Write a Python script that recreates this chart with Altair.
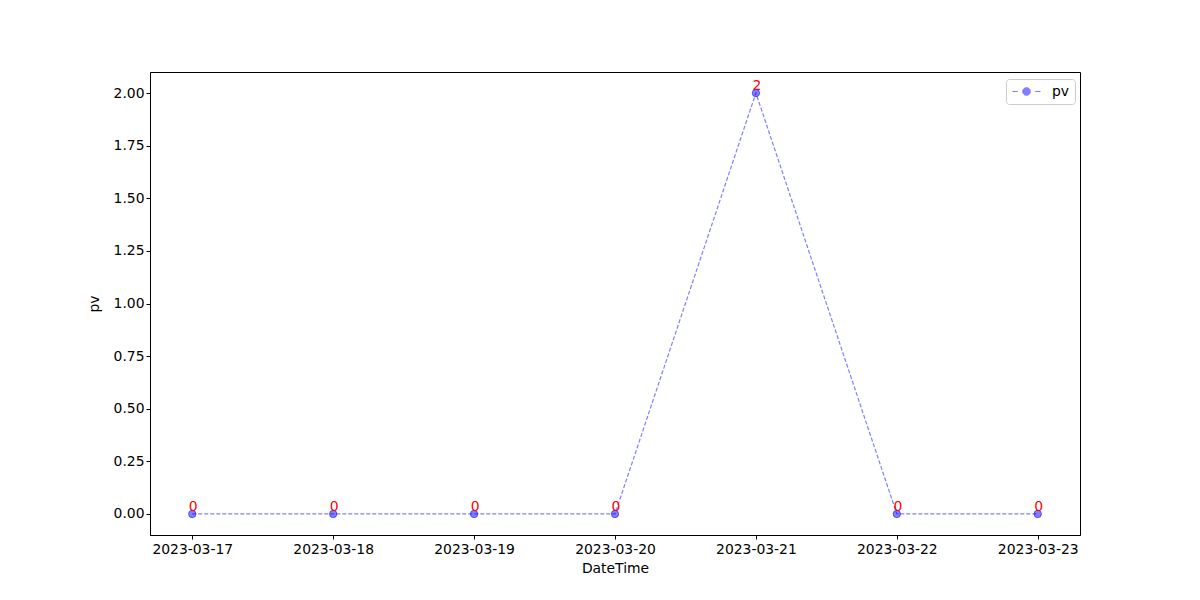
import altair as alt
import pandas as pd

dates = ["2023-03-17", "2023-03-18", "2023-03-19", "2023-03-20", "2023-03-21", "2023-03-22", "2023-03-23"]
pv = [0, 0, 0, 0, 2, 0, 0]
series = ["pv"] * len(dates)
y_ticks = [0, 0.25, 0.5, 0.75, 1.0, 1.25, 1.5, 1.75, 2.0]

df = pd.DataFrame({"DateTime": dates, "pv": pv, "series": series, "label": [str(v) for v in pv]})

FONT = "DejaVu Sans"
FS = 13.9

x = alt.X("DateTime:N", title="DateTime", sort=None,
          scale=alt.Scale(type="point", padding=0.3),
          axis=alt.Axis(labelAngle=0, labelFontSize=FS, titleFontSize=FS, labelFont=FONT, titleFont=FONT,
                        labelColor="black", titleColor="black", titleFontWeight="normal",
                        domainColor="black", tickColor="black", tickSize=4, grid=False,
                        labelPadding=3, titlePadding=6))
y = alt.Y("pv:Q", title="pv",
          scale=alt.Scale(domain=[-0.1, 2.1], nice=False, zero=False),
          axis=alt.Axis(values=y_ticks, format=".2f", labelFontSize=FS, titleFontSize=FS, labelFont=FONT,
                        titleFont=FONT, labelColor="black", titleColor="black", titleFontWeight="normal",
                        domainColor="black", tickColor="black", tickSize=4, grid=False, titlePadding=12))

legend_path = ("M-2,0H-1.25M1.25,0H2M-0.55,0A0.55,0.55 0 1,0 0.55,0A0.55,0.55 0 1,0 -0.55,0Z")

base = alt.Chart(df)

line = base.mark_line(color="blue", opacity=0.5, strokeDash=[4, 2], strokeWidth=1.2).encode(x=x, y=y)

points = base.mark_circle(size=55, fillOpacity=0.5, stroke="blue", strokeWidth=1, strokeOpacity=0.5).encode(
    x=x, y=y,
    color=alt.Color("series:N", scale=alt.Scale(domain=["pv"], range=["blue"]),
                    legend=alt.Legend(title=None, orient="none", legendX=856, legendY=7,
                                      symbolType=legend_path, symbolSize=196, symbolOffset=8,
                                      symbolFillColor="blue", symbolStrokeColor="blue",
                                      symbolStrokeWidth=1, symbolOpacity=0.5,
                                      labelFontSize=FS, labelFont=FONT, labelColor="black",
                                      strokeColor="#cccccc", fillColor="white", cornerRadius=3,
                                      padding=5, labelOffset=18))
)

labels = base.mark_text(color="red", fontSize=FS, font=FONT, baseline="alphabetic", align="center",
                        dy=-3, dx=1).encode(x=x, y=y, text="label:N")

chart = (line + points + labels).properties(
    width=930, height=463,
    autosize=alt.AutoSizeParams(type="none"),
    padding={"left": 142, "top": 64, "right": 100, "bottom": 60},
).configure_view(stroke="black", strokeWidth=1)

chart.save("out.html", embed_options={"renderer": "svg", "actions": False})
